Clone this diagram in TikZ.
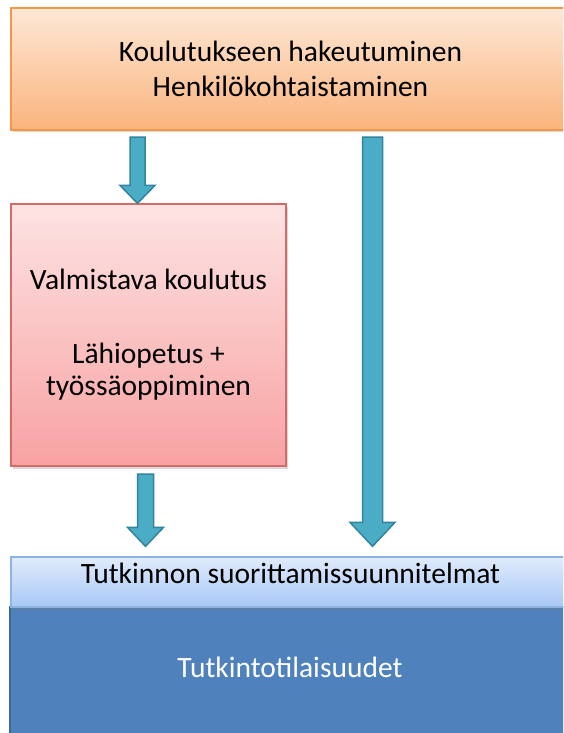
\documentclass[tikz,border=0pt]{standalone}
\usepackage{fontspec}
\setmainfont{Carlito}
\usepackage{xcolor}
\usetikzlibrary{calc, positioning, shadows}

\definecolor{orangetop}{HTML}{FDE8D6}
\definecolor{orangebot}{HTML}{FAB47C}
\definecolor{orangeedge}{HTML}{F79646}
\definecolor{pinktop}{HTML}{FDE3E3}
\definecolor{pinkbot}{HTML}{F8A2A2}
\definecolor{pinkedge}{HTML}{D36A68}
\definecolor{skytop}{HTML}{E0EBFB}
\definecolor{skybot}{HTML}{A8C8F7}
\definecolor{skyedge}{HTML}{8DB3E2}
\definecolor{darkblue}{HTML}{4F81BD}
\definecolor{darkedge}{HTML}{3B679C}
\definecolor{arrowfill}{HTML}{4BACC6}
\definecolor{arrowedge}{HTML}{31849B}

% block arrow: from, to, half shaft, half head, head length
\newcommand{\blockarrow}[5]{%
  \draw[arrowbody] let \p1=(#1), \p2=(#2) in
    (\x1-#3,\y1) -- (\x1+#3,\y1) -- (\x1+#3,\y2+#5) -- (\x1+#4,\y2+#5)
    -- (\x2,\y2) -- (\x1-#4,\y2+#5) -- (\x1-#3,\y2+#5) -- cycle;
}

\begin{document}
\begin{tikzpicture}[x=1pt, y=-1pt, font=\fontsize{29.5}{35}\selectfont,
    box/.style={draw, line width=1.3pt, align=center, inner sep=0pt,
      drop shadow={shadow xshift=1.5pt, shadow yshift=-2.5pt, opacity=0.3}},
    arrowbody/.style={fill=arrowfill, draw=arrowedge, line width=1.5pt, line join=miter}]

    \fill[white] (0,0) rectangle (563,733);
    \useasboundingbox (0,0) rectangle (563,733);
    \clip (0,0) rectangle (563,733);

    \node[box, draw=orangeedge, top color=orangetop, bottom color=orangebot,
      minimum width=559pt, minimum height=122pt] (haku) at (290.5,69)
      {Koulutukseen hakeutuminen\\Henkilökohtaistaminen};

    \node[box, draw=pinkedge, top color=pinktop, bottom color=pinkbot,
      minimum width=275pt, minimum height=262pt] (valm) at (148.5,335)
      {Valmistava koulutus\\[39pt]Lähiopetus +\\[-3pt]työssäoppiminen};

    \node[box, draw=darkedge, fill=darkblue, text=white,
      minimum width=560pt, minimum height=132pt] (tilai) at (290,673)
      {\raisebox{11pt}{Tutkintotilaisuudet}};

    \node[box, draw=skyedge, top color=skytop, bottom color=skybot,
      minimum width=559pt, minimum height=50pt] (suunn) at (290.5,582) {};
    \node (suunnteksti) at ($(suunn.center)+(0,-9)$) {Tutkinnon suorittamissuunnitelmat};

    \coordinate (s1) at (137.5,137);
    \coordinate (s2) at (372.5,137);
    \coordinate (s3) at (145.5,474);

    \blockarrow{s1}{s1 |- valm.north}{7.5pt}{17.5pt}{18pt}
    \blockarrow{s2}{$(s2 |- suunn.north)+(0,-10)$}{10pt}{22.5pt}{24pt}
    \blockarrow{s3}{$(s3 |- suunn.north)+(0,-10)$}{8pt}{18pt}{19pt}

\end{tikzpicture}
\end{document}
